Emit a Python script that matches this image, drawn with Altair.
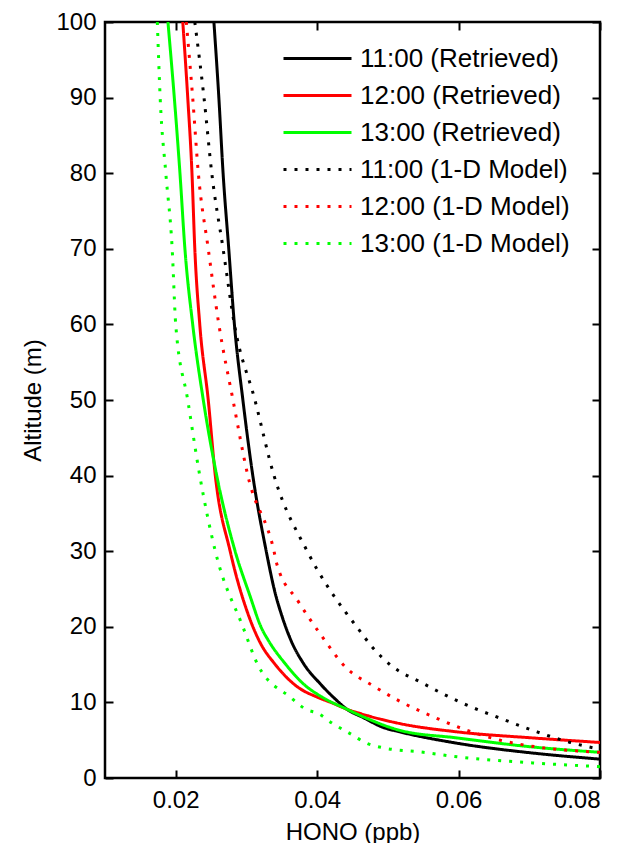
import altair as alt
import pandas as pd

# ---- data (HONO in ppb, altitude in m) ----
series_names = [
    "11:00 (Retrieved)",
    "12:00 (Retrieved)",
    "13:00 (Retrieved)",
    "11:00 (1-D Model)",
    "12:00 (1-D Model)",
    "13:00 (1-D Model)",
]
series_colors = ["#000000", "#ff0000", "#00ff00", "#000000", "#ff0000", "#00ff00"]

alt_11_ret = [100, 90, 80, 70, 60, 50, 40, 30, 24.7, 21.2, 18.2, 15.1, 12.5, 10.5, 9.1, 8, 6.7, 6.1, 4.6, 3.3, 2.5]
hono_11_ret = [0.0254, 0.0261, 0.0267, 0.0275, 0.0283, 0.0295, 0.0309, 0.0328, 0.0340, 0.0351, 0.0363,
               0.0381, 0.0404, 0.0425, 0.0442, 0.0465, 0.0493, 0.0517, 0.0598, 0.0705, 0.0800]

alt_12_ret = [100, 90, 80, 70, 60, 50, 40, 30, 21, 17.8, 15.1, 12, 10.7, 9.9, 9.1, 8.5, 7.2, 6.1, 5.3, 4.7]
hono_12_ret = [0.0210, 0.0217, 0.0223, 0.0227, 0.0234, 0.0246, 0.0256, 0.0277, 0.0305, 0.0320, 0.0340,
               0.0373, 0.0400, 0.0422, 0.0442, 0.0462, 0.0517, 0.0598, 0.0705, 0.0800]

alt_13_ret = [100, 90, 80, 70, 60, 50, 40, 30, 24.1, 19.9, 18.2, 15.1, 12.5, 10.7, 9.1, 7.9, 6.3, 5.3, 4.1, 3.4]
hono_13_ret = [0.0189, 0.0198, 0.0206, 0.0213, 0.0224, 0.0239, 0.0258, 0.0284, 0.0305, 0.0321, 0.0331,
               0.0355, 0.0380, 0.0407, 0.0442, 0.0470, 0.0517, 0.0598, 0.0705, 0.0800]

alt_11_mod = [100, 90, 80, 70, 60, 50, 40, 30, 21.7, 20, 17.2, 15, 12.5, 10, 7.9, 6.1, 4.7, 3.8]
hono_11_mod = [0.0227, 0.0240, 0.0251, 0.0267, 0.0283, 0.0312, 0.0339, 0.0386, 0.0442, 0.0456,
               0.0479, 0.0503, 0.0550, 0.0603, 0.0659, 0.0711, 0.0758, 0.0800]

alt_12_mod = [100, 90, 80, 70, 60, 50, 40, 30, 28.3, 23.4, 19.1, 14.5, 12.2, 10.3, 7.9, 6.3, 5.0, 4.1, 3.4]
hono_12_mod = [0.0215, 0.0224, 0.0232, 0.0246, 0.0261, 0.0281, 0.0302, 0.0339, 0.0343, 0.0373,
               0.0404, 0.0442, 0.0479, 0.0514, 0.0569, 0.0612, 0.0659, 0.0711, 0.0800]

alt_13_mod = [100, 90, 80, 70, 60, 50, 40, 30, 20, 15, 10.7, 9.0, 8.6, 7.2, 5.9, 4.6, 4.0, 3.4, 2.8, 2.0, 1.5]
hono_13_mod = [0.0174, 0.0178, 0.0186, 0.0195, 0.0200, 0.0217, 0.0234, 0.0256, 0.0295, 0.0316,
               0.0362, 0.0386, 0.0400, 0.0422, 0.0446, 0.0470, 0.0493, 0.0550, 0.0598, 0.0705, 0.0800]

x_ticks = [0.02, 0.04, 0.06, 0.08]
y_ticks = [0, 10, 20, 30, 40, 50, 60, 70, 80, 90, 100]

all_alts = [alt_11_ret, alt_12_ret, alt_13_ret, alt_11_mod, alt_12_mod, alt_13_mod]
all_hono = [hono_11_ret, hono_12_ret, hono_13_ret, hono_11_mod, hono_12_mod, hono_13_mod]

rows = []
for name, alts, vals in zip(series_names, all_alts, all_hono):
    for i, (a, v) in enumerate(zip(alts, vals)):
        rows.append({"series": name, "alt": a, "hono": v, "idx": i})
df = pd.DataFrame(rows)

FONT = "Liberation Sans"
dash_range = [[1, 0], [1, 0], [1, 0], [3, 8], [3, 8], [3, 8]]

x_scale = alt.Scale(domain=[0.01, 0.08], nice=False, zero=False)
y_scale = alt.Scale(domain=[0, 100], nice=False, zero=False)

base = alt.Chart(df)

lines = base.mark_line(strokeWidth=3, clip=True, strokeCap="butt", interpolate="monotone").encode(
    x=alt.X("hono:Q", scale=x_scale,
            axis=alt.Axis(title="HONO (ppb)", values=x_ticks, format=".2f", orient="bottom",
                          domain=False, grid=False, tickSize=8, offset=-8, tickColor="black",
                          tickWidth=2, labelPadding=10, labelFontSize=24, titleFontSize=24,
                          labelFont=FONT, titleFont=FONT, labelColor="black", titleColor="black",
                          titleFontWeight="normal", titlePadding=8)),
    y=alt.Y("alt:Q", scale=y_scale,
            axis=alt.Axis(title="Altitude (m)", values=y_ticks, orient="left",
                          domain=False, grid=False, tickSize=8, offset=-8, tickColor="black",
                          tickWidth=2, labelPadding=9, labelFontSize=24, titleFontSize=24,
                          labelFont=FONT, titleFont=FONT, labelColor="black", titleColor="black",
                          titleFontWeight="normal", titlePadding=10)),
    color=alt.Color("series:N", scale=alt.Scale(domain=series_names, range=series_colors),
                    sort=series_names,
                    legend=alt.Legend(title=None, orient="none", legendX=194, legendY=18,
                                      symbolType="M-2,0H2", symbolSize=1156, symbolStrokeWidth=3,
                                      labelFontSize=26, labelFont=FONT, labelColor="black",
                                      labelLimit=400, labelOffset=24, rowPadding=5, padding=0)),
    strokeDash=alt.StrokeDash("series:N", scale=alt.Scale(domain=series_names, range=dash_range),
                              sort=series_names, legend=None),
    detail="series:N",
    order="idx:Q",
)

frame_axes = base.mark_line(opacity=0).encode(
    x=alt.X("hono:Q", scale=x_scale,
            axis=alt.Axis(title=None, values=x_ticks, orient="top", labels=False, domain=False,
                          grid=False, tickSize=8, offset=-8, tickColor="black", tickWidth=2)),
    y=alt.Y("alt:Q", scale=y_scale,
            axis=alt.Axis(title=None, values=y_ticks, orient="right", labels=False, domain=False,
                          grid=False, tickSize=8, offset=-8, tickColor="black", tickWidth=2)),
    detail="series:N",
    order="idx:Q",
)

chart = alt.layer(lines, frame_axes).resolve_axis(
    x="independent", y="independent"
).properties(
    width=495, height=756,
    autosize=alt.AutoSizeParams(type="none"),
    padding={"left": 97, "top": 14, "right": 23, "bottom": 65},
).configure(
    background="white"
).configure_view(
    stroke="black", strokeWidth=2.5
)

chart.save("out.html", embed_options={"renderer": "svg", "actions": False})
